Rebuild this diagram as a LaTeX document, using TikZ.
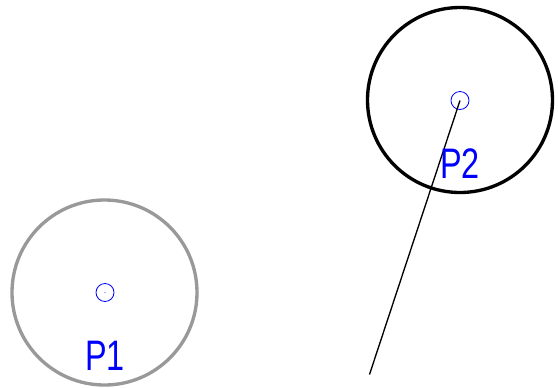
\documentclass[tikz,border=0pt]{standalone}
\usepackage{fontspec}
\newfontfamily\labelfont[FakeStretch=0.76]{Liberation Sans}
\usepackage{xcolor}

\tikzset{
  ring/.style={draw, circle, line width=2.5pt, inner sep=0pt, minimum size=138.75pt},
  marker/.style={draw=blue, circle, line width=0.6pt, inner sep=0pt, minimum size=13.5pt},
  plabel/.style={anchor=base, inner sep=0pt, text=blue, font=\labelfont\fontsize{32}{32}\selectfont}
}

\begin{document}
\begin{tikzpicture}[x=0.75pt,y=0.75pt,yscale=-1,xscale=1]
    \useasboundingbox (0,0) rectangle (558,387);

    %Shape: Circle P1
    \node [ring, draw=gray!80] (c1) at (104.5,292.5) {};
    \node [marker] (m1) at (105,292.5) {};
    \fill [blue] (m1.center) circle [radius=0.5];
    %Shape: Circle P2
    \node [ring, draw=black] (c2) at (460,100) {};
    \node [marker] (m2) at (460,100.5) {};

    %Straight Lines
    \coordinate (e2) at (369.5,374.5);
    \draw [line width=1pt] (m2.center) -- (e2);

    % Text Node
    \node [plabel] (l1) at (105,370) {P1};
    % Text Node
    \node [plabel] (l2) at (460,178.5) {P2};

\end{tikzpicture}
\end{document}
